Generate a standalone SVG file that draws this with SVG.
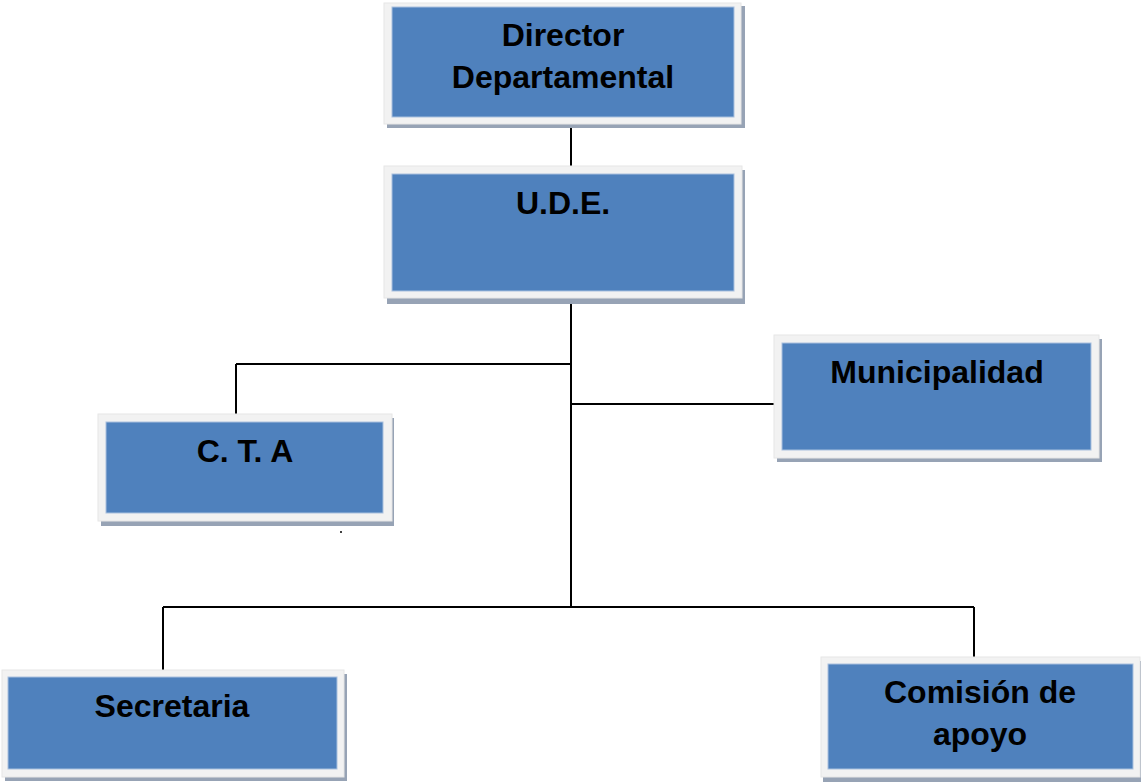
<svg xmlns="http://www.w3.org/2000/svg" width="1141" height="782" viewBox="0 0 1141 782">
<style>
.sh{fill:#97a3b5}
.fr{fill:#f2f2f2;stroke:#e6e6e6;stroke-width:1}
.bx{fill:#4f81bd;stroke:#a9c0de;stroke-width:1}
.t{font-family:"Liberation Sans",Arial,sans-serif;font-weight:bold;font-size:32px;fill:#000;text-anchor:middle}
.c{stroke:#000;stroke-width:2;fill:none}
</style>
<rect width="1141" height="782" fill="#fff"/>
<g id="connectors">
<path class="c" d="M571,125V166M571,298V607M236,364H571M236,364V414M571,404H774M163,607H974M163,607V670M974,607V657"/>
<circle cx="341" cy="532" r="1" fill="#000"/>
</g>
<g id="director">
<rect class="sh" x="387" y="6" width="358" height="122"/>
<rect class="fr" x="384" y="3" width="357" height="121"/>
<rect class="bx" x="392" y="7" width="342" height="110"/>
<text class="t" x="563" y="46">Director</text>
<text class="t" x="563" y="88">Departamental</text>
</g>
<g id="ude">
<rect class="sh" x="387" y="170" width="358" height="134"/>
<rect class="fr" x="384" y="166" width="358" height="132"/>
<rect class="bx" x="392" y="174" width="342" height="117"/>
<text class="t" x="563" y="214">U.D.E.</text>
</g>
<g id="cta">
<rect class="sh" x="101" y="418" width="293" height="108"/>
<rect class="fr" x="98" y="414" width="294" height="107"/>
<rect class="bx" x="106" y="422" width="277" height="91"/>
<text class="t" x="245" y="462">C. T. A</text>
</g>
<g id="municipalidad">
<rect class="sh" x="777" y="339" width="325" height="123"/>
<rect class="fr" x="774" y="335" width="325" height="123"/>
<rect class="bx" x="782" y="343" width="309" height="107"/>
<text class="t" x="937" y="383">Municipalidad</text>
</g>
<g id="secretaria">
<rect class="sh" x="5" y="674" width="342" height="107"/>
<rect class="fr" x="2" y="670" width="342" height="107"/>
<rect class="bx" x="8" y="677" width="329" height="92"/>
<text class="t" x="172" y="717">Secretaria</text>
</g>
<g id="comision">
<rect class="sh" x="823" y="661" width="318" height="121"/>
<rect class="fr" x="821" y="657" width="319" height="120"/>
<rect class="bx" x="828" y="664" width="305" height="105"/>
<text class="t" x="980" y="703">Comisión de</text>
<text class="t" x="980" y="745">apoyo</text>
</g>
</svg>
